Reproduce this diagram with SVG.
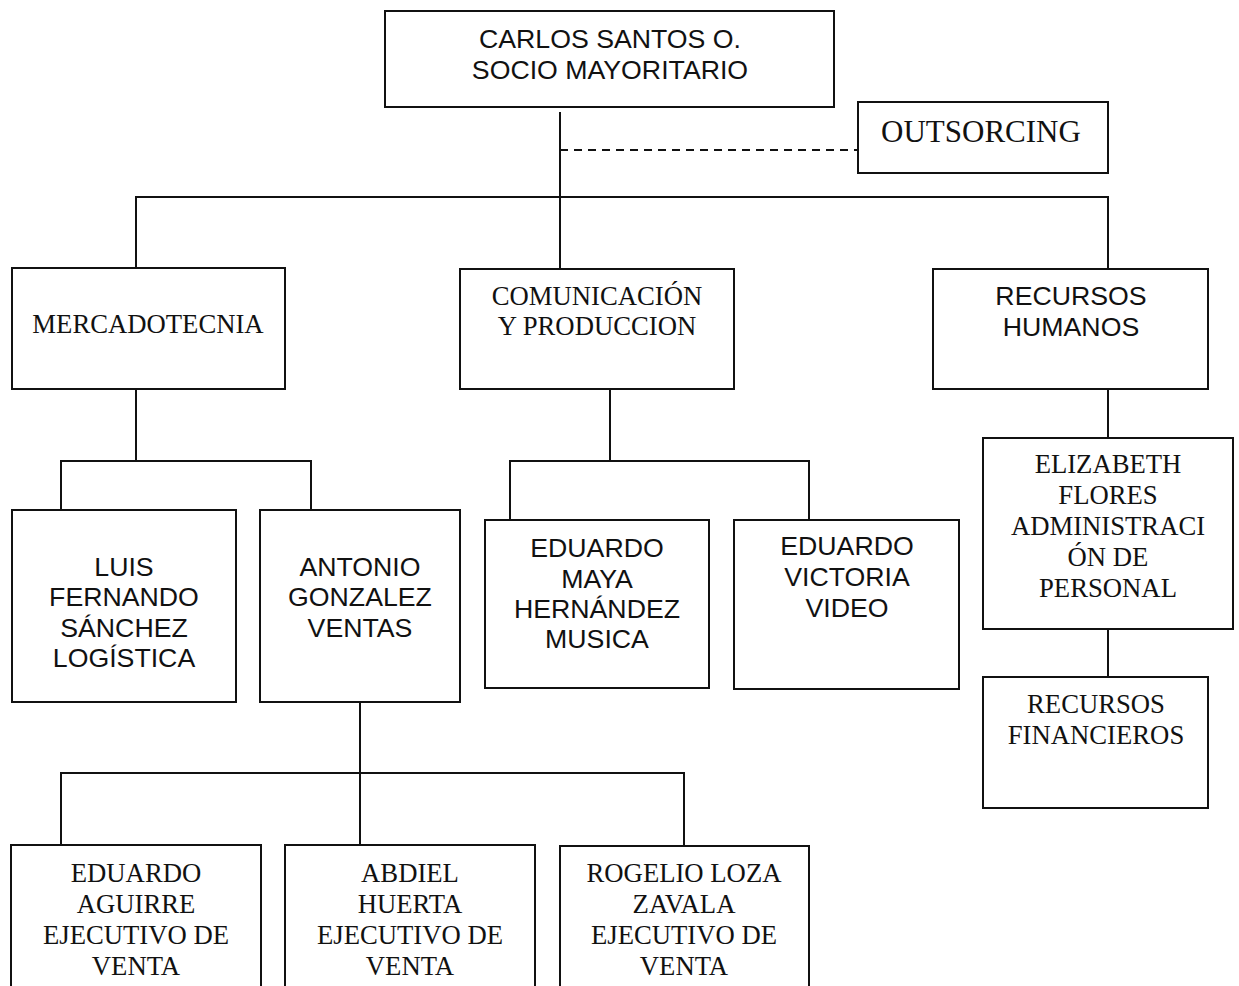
<svg xmlns="http://www.w3.org/2000/svg" width="1239" height="986" viewBox="0 0 1239 986">
  <style>
    .box { fill: #ffffff; stroke: #111111; stroke-width: 2; }
    .link { fill: none; stroke: #111111; stroke-width: 2; }
    .dash { fill: none; stroke: #111111; stroke-width: 2; stroke-dasharray: 8 6; }
    .sans { font-family: "Liberation Sans", Arial, sans-serif; font-size: 26.7px; fill: #111111; text-anchor: middle; }
    .serif { font-family: "Liberation Serif", "Times New Roman", serif; font-size: 26.7px; fill: #111111; text-anchor: middle; }
  </style>
  <rect width="1239" height="986" fill="#ffffff"/>

  <!-- connectors -->
  <g id="connectors">
    <!-- top level -->
    <path class="link" d="M560 112 V269"/>
    <path class="dash" d="M560 150 H858"/>
    <path class="link" d="M136 268 V197 H1108 V269"/>
    <!-- mercadotecnia -->
    <path class="link" d="M136 389 V461"/>
    <path class="link" d="M61 510 V461 H311 V510"/>
    <!-- ventas -->
    <path class="link" d="M360 702 V845"/>
    <path class="link" d="M61 845 V773 H684 V846"/>
    <!-- comunicacion -->
    <path class="link" d="M610 389 V461"/>
    <path class="link" d="M510 520 V461 H809 V533"/>
    <!-- recursos humanos -->
    <path class="link" d="M1108 389 V438"/>
    <path class="link" d="M1108 629 V677"/>
  </g>

  <g id="socio">
    <rect class="box" x="385" y="11" width="449" height="96"/>
    <text class="sans" x="610" y="48">CARLOS SANTOS O.</text>
    <text class="sans" x="610" y="79">SOCIO MAYORITARIO</text>
  </g>

  <g id="outsorcing">
    <rect class="box" x="858" y="102" width="250" height="71"/>
    <text class="serif" x="981" y="142" style="font-size:31px">OUTSORCING</text>
  </g>

  <g id="mercadotecnia">
    <rect class="box" x="12" y="268" width="273" height="121"/>
    <text class="serif" x="148" y="333">MERCADOTECNIA</text>
  </g>

  <g id="comunicacion">
    <rect class="box" x="460" y="269" width="274" height="120"/>
    <text class="serif" x="597" y="305">COMUNICACIÓN</text>
    <text class="serif" x="597" y="335">Y PRODUCCION</text>
  </g>

  <g id="recursos-humanos">
    <rect class="box" x="933" y="269" width="275" height="120"/>
    <text class="sans" x="1071" y="305">RECURSOS</text>
    <text class="sans" x="1071" y="336">HUMANOS</text>
  </g>

  <g id="luis-fernando">
    <rect class="box" x="12" y="510" width="224" height="192"/>
    <text class="sans" x="124" y="576">LUIS</text>
    <text class="sans" x="124" y="606">FERNANDO</text>
    <text class="sans" x="124" y="637">SÁNCHEZ</text>
    <text class="sans" x="124" y="667">LOGÍSTICA</text>
  </g>

  <g id="antonio-gonzalez">
    <rect class="box" x="260" y="510" width="200" height="192"/>
    <text class="sans" x="360" y="576">ANTONIO</text>
    <text class="sans" x="360" y="606">GONZALEZ</text>
    <text class="sans" x="360" y="637">VENTAS</text>
  </g>

  <g id="eduardo-maya">
    <rect class="box" x="485" y="520" width="224" height="168"/>
    <text class="sans" x="597" y="557">EDUARDO</text>
    <text class="sans" x="597" y="588">MAYA</text>
    <text class="sans" x="597" y="618">HERNÁNDEZ</text>
    <text class="sans" x="597" y="648">MUSICA</text>
  </g>

  <g id="eduardo-victoria">
    <rect class="box" x="734" y="520" width="225" height="169"/>
    <text class="sans" x="847" y="555">EDUARDO</text>
    <text class="sans" x="847" y="586">VICTORIA</text>
    <text class="sans" x="847" y="617">VIDEO</text>
  </g>

  <g id="elizabeth-flores">
    <rect class="box" x="983" y="438" width="250" height="191"/>
    <text class="serif" x="1108" y="473">ELIZABETH</text>
    <text class="serif" x="1108" y="504">FLORES</text>
    <text class="serif" x="1108" y="535">ADMINISTRACI</text>
    <text class="serif" x="1108" y="566">ÓN DE</text>
    <text class="serif" x="1108" y="597">PERSONAL</text>
  </g>

  <g id="recursos-financieros">
    <rect class="box" x="983" y="677" width="225" height="131"/>
    <text class="serif" x="1096" y="713">RECURSOS</text>
    <text class="serif" x="1096" y="744">FINANCIEROS</text>
  </g>

  <g id="eduardo-aguirre">
    <rect class="box" x="11" y="845" width="250" height="160"/>
    <text class="serif" x="136" y="882">EDUARDO</text>
    <text class="serif" x="136" y="913">AGUIRRE</text>
    <text class="serif" x="136" y="944">EJECUTIVO DE</text>
    <text class="serif" x="136" y="975">VENTA</text>
  </g>

  <g id="abdiel-huerta">
    <rect class="box" x="285" y="845" width="250" height="160"/>
    <text class="serif" x="410" y="882">ABDIEL</text>
    <text class="serif" x="410" y="913">HUERTA</text>
    <text class="serif" x="410" y="944">EJECUTIVO DE</text>
    <text class="serif" x="410" y="975">VENTA</text>
  </g>

  <g id="rogelio-loza">
    <rect class="box" x="560" y="846" width="249" height="160"/>
    <text class="serif" x="684" y="882">ROGELIO LOZA</text>
    <text class="serif" x="684" y="913">ZAVALA</text>
    <text class="serif" x="684" y="944">EJECUTIVO DE</text>
    <text class="serif" x="684" y="975">VENTA</text>
  </g>
</svg>
